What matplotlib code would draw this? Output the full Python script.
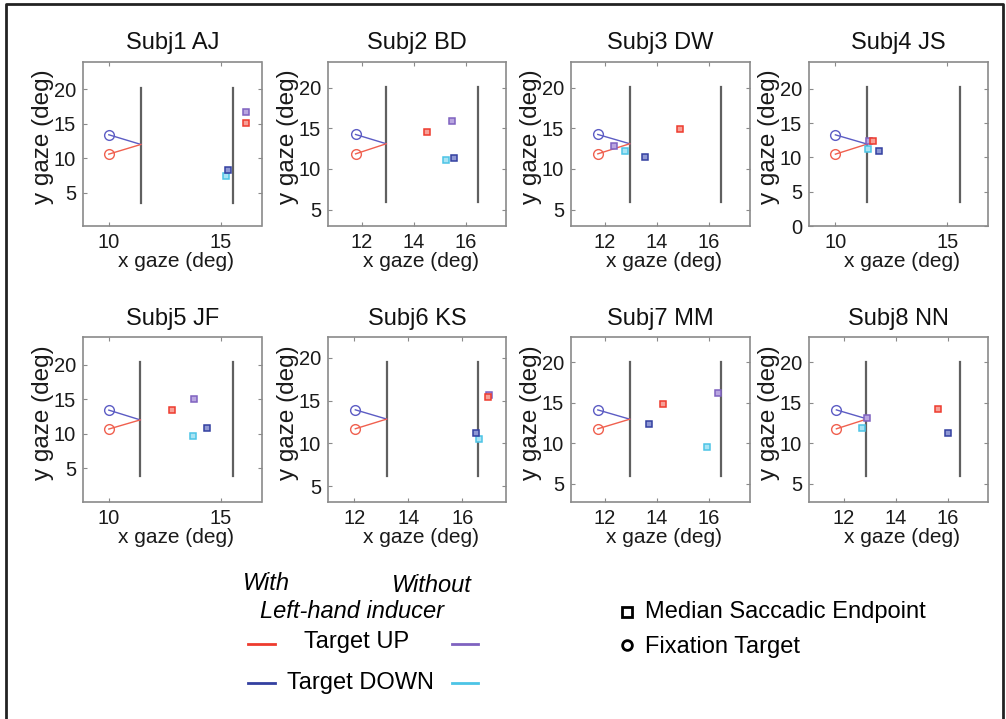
import numpy as np
import matplotlib.pyplot as plt
from matplotlib.lines import Line2D

plt.rcParams['font.family'] = ['Liberation Sans', 'DejaVu Sans']

# ---- data (deg) ----
titles = ['Subj1 AJ', 'Subj2 BD', 'Subj3 DW', 'Subj4 JS',
          'Subj5 JF', 'Subj6 KS', 'Subj7 MM', 'Subj8 NN']

# fixation targets (circles)
fix_x = [10.0, 11.75, 11.72, 10.0, 10.0, 12.04, 11.72, 11.72]
fix_up_y = [10.6, 11.86, 11.86, 10.48, 10.67, 11.71, 11.78, 11.78]
fix_down_y = [13.4, 14.24, 14.24, 13.3, 13.42, 13.92, 14.12, 14.12]

# point where the two saccade lines meet
conv_x = [11.43, 12.93, 12.95, 11.42, 11.4, 13.2, 12.95, 12.9]
conv_y = [12.0, 13.1, 13.1, 11.95, 12.0, 12.84, 12.97, 13.0]

# vertical reference bars
bar_left_x = [11.43, 12.93, 12.95, 11.42, 11.4, 13.2, 12.95, 12.87]
bar_right_x = [15.55, 16.47, 16.45, 15.57, 15.54, 16.59, 16.45, 16.45]
bar_lo = [3.6, 6.0, 6.0, 3.5, 3.8, 6.2, 5.9, 5.9]
bar_hi = [20.2, 20.07, 20.07, 20.3, 20.4, 19.47, 20.0, 20.0]

# median saccadic endpoints
with_up_x = [16.1, 14.48, 14.88, 11.7, 12.83, 16.96, 14.24, 15.6]
with_up_y = [15.07, 14.6, 14.86, 12.45, 13.37, 15.4, 14.86, 14.2]
with_down_x = [15.31, 15.52, 13.54, 11.97, 14.38, 16.5, 13.67, 15.98]
with_down_y = [8.3, 11.32, 11.49, 10.97, 10.86, 11.24, 12.36, 11.25]
without_up_x = [16.1, 15.47, 12.36, 11.49, 13.78, 16.99, 16.33, 12.9]
without_up_y = [16.75, 15.93, 12.8, 12.45, 15.1, 15.66, 16.18, 13.17]
without_down_x = [15.2, 15.24, 12.76, 11.45, 13.77, 16.63, 15.92, 12.72]
without_down_y = [7.4, 11.15, 12.15, 11.3, 9.6, 10.5, 9.56, 11.94]

x_limits = [(8.85, 16.8), (10.69, 17.55), (10.69, 17.55), (8.82, 16.8),
            (8.85, 16.8), (11.03, 17.63), (10.69, 17.55), (10.67, 17.51)]
y_limits = [(0.2, 24.0), (3.0, 23.2), (3.0, 23.2), (0.0, 24.0),
            (0.1, 24.0), (3.2, 22.37), (2.75, 23.1), (2.75, 23.1)]
x_ticks = [[10, 15], [12, 14, 16], [12, 14, 16], [10, 15],
           [10, 15], [12, 14, 16], [12, 14, 16], [12, 14, 16]]
y_ticks = [[5, 10, 15, 20], [5, 10, 15, 20], [5, 10, 15, 20], [0, 5, 10, 15, 20],
           [5, 10, 15, 20], [5, 10, 15, 20], [5, 10, 15, 20], [5, 10, 15, 20]]

# colours
red = '#ee3b2e'
blue = '#3340a0'
purple = '#7f62c0'
cyan = '#4cc4e6'
fix_red = '#f0604f'
fix_blue = '#5c5cc4'

W, H = 1006, 719
fig = plt.figure(figsize=(W / 100, H / 100), dpi=100)

lefts = [83, 328, 571, 809]
tops = [61.5, 337.3]
aw, ah = 178.5, 164.5

for i in range(8):
    r, c = divmod(i, 4)
    ax = fig.add_axes([lefts[c] / W, 1 - (tops[r] + ah) / H, aw / W, ah / H])

    # bars
    for bx in (bar_left_x[i], bar_right_x[i]):
        ax.plot([bx, bx], [bar_lo[i], bar_hi[i]], color='#606060', lw=1.6, zorder=1)

    # saccade lines from fixation targets
    ax.plot([fix_x[i], conv_x[i]], [fix_down_y[i], conv_y[i]], color=fix_blue, lw=1.0, zorder=2)
    ax.plot([fix_x[i], conv_x[i]], [fix_up_y[i], conv_y[i]], color=fix_red, lw=1.0, zorder=2)
    ax.plot(fix_x[i], fix_down_y[i], 'o', ms=7, mfc='none', mec=fix_blue, mew=1.0, zorder=3)
    ax.plot(fix_x[i], fix_up_y[i], 'o', ms=7, mfc='none', mec=fix_red, mew=1.0, zorder=3)

    # endpoints
    pts = [(without_down_x, without_down_y, cyan, '#a8e4f4'),
           (without_up_x, without_up_y, purple, '#b9a6e0'),
           (with_down_x, with_down_y, blue, '#8f98d4'),
           (with_up_x, with_up_y, red, '#f7a097')]
    for px_, py_, ec, fc in pts:
        ax.plot(px_[i], py_[i], 's', ms=3.8, mec=ec, mfc=fc, mew=1.1, zorder=4)

    ax.set_xlim(x_limits[i])
    ax.set_ylim(y_limits[i])
    ax.set_xticks(x_ticks[i])
    ax.set_yticks(y_ticks[i])
    ax.tick_params(direction='in', length=3, width=0.8, color='#8a8a8a',
                   labelsize=14.5, labelcolor='#1a1a1a', top=True, right=True, pad=5)
    for sp in ax.spines.values():
        sp.set_color('#8a8a8a')
        sp.set_linewidth(1.2)

    ax.set_title(titles[i], fontsize=17, pad=9, color='#111111')
    ax.set_xlabel('x gaze (deg)', fontsize=15, color='#1a1a1a')
    ax.set_ylabel('y gaze (deg)', fontsize=17.5, color='#1a1a1a')
    ax.xaxis.set_label_coords(0.52, -0.16)
    ax.yaxis.set_label_coords(-0.16, 0.54)

# ---- legend, drawn by hand ----
def px(x, y):
    return x / W, 1 - y / H

fs = 17
fig.text(*px(266, 584), 'With', style='italic', fontsize=fs, ha='center', va='center')
fig.text(*px(432, 586), 'Without', style='italic', fontsize=fs, ha='center', va='center')
fig.text(*px(352, 611), 'Left-hand inducer', style='italic', fontsize=fs, ha='center', va='center')
fig.text(*px(357, 642), 'Target UP', fontsize=fs, ha='center', va='center')
fig.text(*px(360, 683), 'Target DOWN', fontsize=fs, ha='center', va='center')

leg_lines = [(644, red, 'l'), (644, purple, 'r'), (683, blue, 'l'), (683, cyan, 'r')]
for yy, col, side in leg_lines:
    x0, x1 = (248, 275) if side == 'l' else (452, 478)
    fig.add_artist(Line2D([x0 / W, x1 / W], [1 - yy / H, 1 - yy / H],
                          transform=fig.transFigure, color=col, lw=2))

fig.add_artist(Line2D([627 / W], [1 - 612 / H], transform=fig.transFigure,
                      marker='s', ms=7, mfc='white', mec='black', mew=2, ls='none'))
fig.add_artist(Line2D([627 / W], [1 - 645 / H], transform=fig.transFigure,
                      marker='o', ms=7, mfc='white', mec='black', mew=2, ls='none'))
fig.text(*px(645, 612), 'Median Saccadic Endpoint', fontsize=fs, ha='left', va='center')
fig.text(*px(645, 647), 'Fixation Target', fontsize=fs, ha='left', va='center')

# outer frame
fig.add_artist(Line2D([6 / W, 6 / W, 1003 / W, 1003 / W], [0, 1 - 4 / H, 1 - 4 / H, 0],
                      transform=fig.transFigure, color='#222222', lw=2))

fig.savefig('out.png', dpi=100)
